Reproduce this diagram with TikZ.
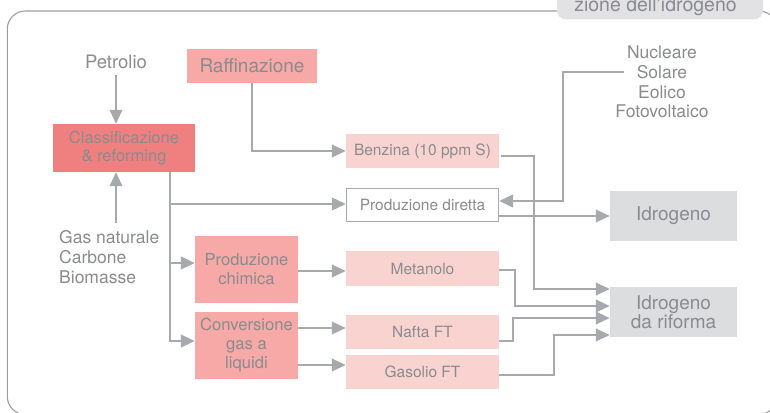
\documentclass[tikz,border=0pt]{standalone}
\usepackage{fontspec}
\setmainfont{TeX Gyre Heros}
\usetikzlibrary{arrows.meta}
\definecolor{txtgray}{HTML}{8A8B8E}
\definecolor{linegray}{HTML}{A8A9AC}
\definecolor{framegray}{HTML}{9C9DA0}
\definecolor{tabgray}{HTML}{E2E2E4}
\definecolor{redbox}{HTML}{F08080}
\definecolor{salmonbox}{HTML}{F6A9A6}
\definecolor{pinkbox}{HTML}{F9D3D0}
\definecolor{graybox}{HTML}{DCDDDF}
\begin{document}
\begin{tikzpicture}[x=1pt,y=-1pt,
  basebox/.style={rectangle, inner sep=0pt, align=center, text=txtgray},
  bigbox/.style={basebox, font=\fontsize{19}{19}\selectfont},
  midbox/.style={basebox, minimum width=103pt, minimum height=67pt, fill=salmonbox,
                 font=\fontsize{16.6}{19}\selectfont},
  smallbox/.style={basebox, minimum width=153pt, minimum height=34pt, fill=pinkbox,
                 font=\fontsize{15.5}{17}\selectfont},
  outbox/.style={bigbox, minimum width=127pt, minimum height=50pt, fill=graybox},
  label/.style={inner sep=0pt, text=txtgray, font=\fontsize{17.5}{19.6}\selectfont},
  arr/.style={draw=linegray, line width=2.4pt, -{Triangle[length=14pt,width=12.5pt]}},
]
\useasboundingbox (0,0) rectangle (770,412);

% outer frame and title tab
\draw[framegray, line width=1.1pt, rounded corners=18pt] (7.3,11) rectangle (777,414.5);
\fill[tabgray, rounded corners=9pt] (557,-14) rectangle (763,19.5);
\node[anchor=base, inner sep=0pt, text=txtgray, font=\fontsize{19.5}{20}\selectfont]
  (title) at (655.5,12) {zione dell’idrogeno};

% sources
\node[label, font=\fontsize{18.5}{19}\selectfont] (petrolio) at (116,62) {Petrolio};
\node[label, anchor=west, align=left] (gas) at (59,257) {Gas naturale\\Carbone\\Biomasse};
\node[label, align=center] (nucl) at (662,82) {Nucleare\\Solare\\Eolico\\Fotovoltaico};

% process boxes
\node[bigbox, minimum width=130pt, minimum height=34pt, fill=salmonbox] (raff) at (252,66) {Raffinazione};
\node[basebox, minimum width=142pt, minimum height=48pt, fill=redbox,
      font=\fontsize{16.5}{18}\selectfont] (classif) at (124,148) {Classificazione\\\& reforming};
\node[midbox] (chim) at (246.5,269.5) {Produzione\\chimica};
\node[midbox] (conv) at (246.5,345.5) {Conversione\\gas a\\liquidi};

% intermediate products
\node[smallbox] (benz) at (422.5,151) {Benzina (10 ppm S)};
\node[smallbox, fill=white, draw=linegray, line width=1.2pt, minimum width=152pt, minimum height=33pt]
  (diretta) at (422.5,205) {Produzione diretta};
\node[smallbox, minimum height=35pt] (meta) at (422.5,268.5) {Metanolo};
\node[smallbox] (nafta) at (422.5,332) {Nafta FT};
\node[smallbox] (gasolio) at (422.5,372) {Gasolio FT};

% hydrogen outputs
\node[outbox] (idro) at (673.5,216) {Idrogeno};
\node[outbox] (rif) at (673.5,312) {Idrogeno\\da riforma};

% feeds into classification
\draw[arr, shorten <=6pt] (petrolio.south) -- (petrolio.south |- classif.north);
\draw[arr, shorten <=8pt] (gas.north -| petrolio.south) -- (petrolio.south |- classif.south);

% refining
\draw[arr] (raff.south) |- (benz.west);

% trunk out of classification
\coordinate (trunk) at ([xshift=46pt]classif.south);
\draw[arr] (trunk) |- ([yshift=1pt]diretta.west);
\draw[arr] (trunk) |- ([yshift=6.5pt]chim.west);
\draw[arr] (trunk) |- ([yshift=4.5pt]conv.west);

% chemical routes
\draw[arr] ([yshift=-1.5pt]chim.east) -- ([yshift=-1.5pt]chim.east -| meta.west);
\draw[arr] ([yshift=17.5pt]conv.east) -- ([yshift=17.5pt]conv.east -| nafta.west);
\draw[arr] ([yshift=-19.5pt]conv.east) -- ([yshift=-19.5pt]conv.east -| gasolio.west);

% renewable sources into direct production
\draw[arr] ([xshift=8.5pt,yshift=10pt]nucl.west) -- ++(-61,0) |- ([yshift=4pt]diretta.east);
\draw[arr] (diretta.east |- idro.west) -- (idro.west);

% reforming products
\draw[arr] ([xshift=2pt,yshift=-5pt]benz.east) -- ++(33,0) |- ([yshift=23pt]rif.west);
\draw[arr] ([yshift=-1.5pt]meta.east) -- ++(16,0) |- ([yshift=6pt]rif.west);
\draw[arr] ([yshift=-9pt]nafta.east) -- ++(14,0) |- ([yshift=-6pt]rif.west);
\draw[arr] ([yshift=-3pt]gasolio.east) -- ++(55,0) |- ([yshift=-23pt]rif.west);
\end{tikzpicture}
\end{document}
